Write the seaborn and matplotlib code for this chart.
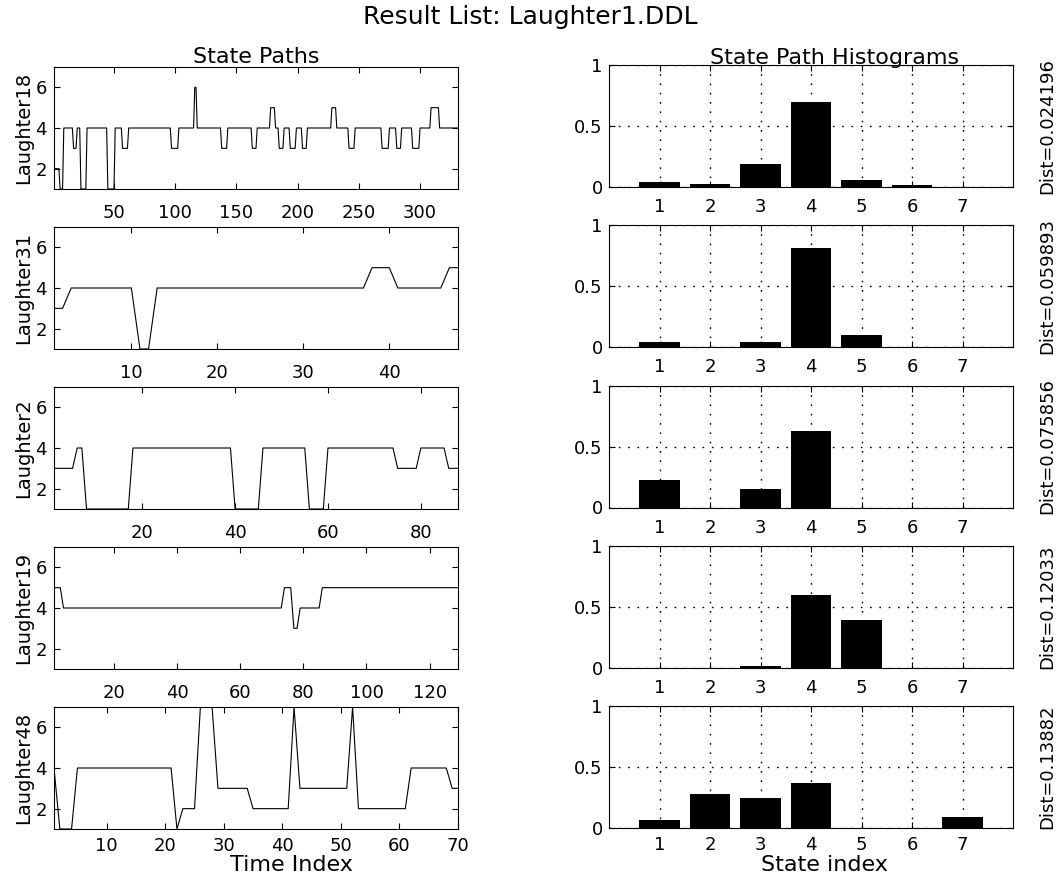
import numpy as np
import matplotlib
matplotlib.use('Agg')
import matplotlib.pyplot as plt
import seaborn as sns

names = ['Laughter18', 'Laughter31', 'Laughter2', 'Laughter19', 'Laughter48']
dists = ['Dist=0.024196', 'Dist=0.059893', 'Dist=0.075856', 'Dist=0.12033', 'Dist=0.13882']

# state paths as (state, run length)
path18_states = [2, 1, 4, 3, 4, 1, 4, 1, 4, 3, 4, 3, 4, 6, 4, 3, 4, 3, 4, 5,
                 4, 3, 4, 3, 4, 3, 4, 5, 4, 3, 4, 3, 4, 3, 4, 3, 4, 5, 4]
path18_runs = [5, 3, 8, 3, 3, 5, 17, 6, 6, 5, 35, 6, 13, 2, 20, 5, 20, 4, 11, 4,
               3, 4, 5, 5, 5, 4, 20, 4, 10, 5, 22, 6, 6, 4, 9, 6, 9, 7, 16]
path31_states = [3, 4, 1, 4, 5, 4, 5]
path31_runs = [2, 8, 2, 25, 3, 6, 2]
path2_states = [3, 4, 1, 4, 1, 4, 1, 4, 3, 4, 3]
path2_runs = [5, 2, 10, 22, 6, 10, 4, 15, 5, 6, 3]
path19_states = [5, 4, 5, 3, 4, 5]
path19_runs = [3, 70, 3, 2, 7, 44]
path48_states = [4, 1, 4, 1, 2, 7, 3, 2, 7, 3, 7, 2, 4, 3]
path48_runs = [1, 3, 17, 1, 3, 3, 6, 7, 1, 9, 1, 9, 7, 2]

xticks18 = [50, 100, 150, 200, 250, 300]
xticks31 = [10, 20, 30, 40]
xticks2 = [20, 40, 60, 80]
xticks19 = [20, 40, 60, 80, 100, 120]
xticks48 = [10, 20, 30, 40, 50, 60, 70]

# state path histograms
state_idx = [1, 2, 3, 4, 5, 6, 7]
hist18 = [0.044, 0.025, 0.186, 0.696, 0.060, 0.016, 0.0]
hist31 = [0.042, 0.0, 0.042, 0.81, 0.104, 0.0, 0.0]
hist2 = [0.227, 0.0, 0.148, 0.625, 0.0, 0.0, 0.0]
hist19 = [0.0, 0.0, 0.016, 0.60, 0.39, 0.0, 0.0]
hist48 = [0.064, 0.276, 0.249, 0.367, 0.0, 0.0, 0.091]

all_states = [path18_states, path31_states, path2_states, path19_states, path48_states]
all_runs = [path18_runs, path31_runs, path2_runs, path19_runs, path48_runs]
all_xticks = [xticks18, xticks31, xticks2, xticks19, xticks48]
all_hist = [hist18, hist31, hist2, hist19, hist48]

W, H = 1064, 876
fig = plt.figure(figsize=(W / 100, H / 100), dpi=100)


def box(x0, top, w, h):
    return [x0 / W, 1 - (top + h) / H, w / W, h / H]


for i in range(5):
    # left: state path
    path = np.repeat(all_states[i], all_runs[i])
    t = np.arange(1, len(path) + 1)
    ax = fig.add_axes(box(54, 67 + 160 * i, 404, 122))
    sns.lineplot(x=t, y=path, ax=ax, color='black', linewidth=0.8, estimator=None)
    ax.set_xlim(1, len(path))
    ax.set_ylim(1, 7)
    ax.set_xticks(all_xticks[i])
    ax.set_yticks([2, 4, 6])
    ax.tick_params(direction='in', top=True, right=True, length=4, width=0.8,
                   labelsize=13)
    ax.tick_params(axis='x', pad=11 if i < 4 else 6)
    ax.tick_params(axis='y', pad=5)
    ax.set_xlabel('')
    ax.set_ylabel(names[i], fontsize=14)
    ax.yaxis.set_label_coords(-0.052, 0.5)
    for s in ax.spines.values():
        s.set_linewidth(0.8)
    if i == 0:
        ax.set_title('State Paths', fontsize=16, pad=3)

    # right: histogram
    ax2 = fig.add_axes(box(609, 65 + 160.25 * i, 404, 122))
    sns.barplot(x=state_idx, y=all_hist[i], ax=ax2, native_scale=True,
                color='black', saturation=1, width=0.8, zorder=3)
    ax2.set_xlim(0, 8)
    ax2.set_ylim(0, 1)
    ax2.set_xticks(state_idx)
    ax2.set_yticks([0, 0.5, 1])
    ax2.set_yticklabels(['0', '0.5', '1'])
    ax2.grid(True, color='black', linestyle=(0, (1.2, 5.5)), linewidth=1)
    ax2.set_axisbelow(True)
    ax2.tick_params(direction='in', top=True, right=True, length=4, width=0.8,
                    labelsize=13)
    ax2.tick_params(axis='x', pad=8 if i < 4 else 6)
    ax2.tick_params(axis='y', pad=4.5)
    ax2.set_xlabel('')
    ax2.set_ylabel('')
    for s in ax2.spines.values():
        s.set_linewidth(0.8)
        s.set_zorder(4)
    ax2.text(1.084, 0.5, dists[i], transform=ax2.transAxes, rotation=90,
             ha='center', va='center', fontsize=13)
    if i == 0:
        ax2.set_title('State Path Histograms', fontsize=16, pad=1, x=0.559)

fig.text(530 / W, 1 - 24 / H, 'Result List: Laughter1.DDL', ha='center',
         va='baseline', fontsize=18)
fig.text(291 / W, 1 - 865 / H, 'Time Index', ha='center', va='center', fontsize=16)
fig.text(824 / W, 1 - 865 / H, 'State index', ha='center', va='center', fontsize=16)

fig.savefig('out.png', dpi=100)
